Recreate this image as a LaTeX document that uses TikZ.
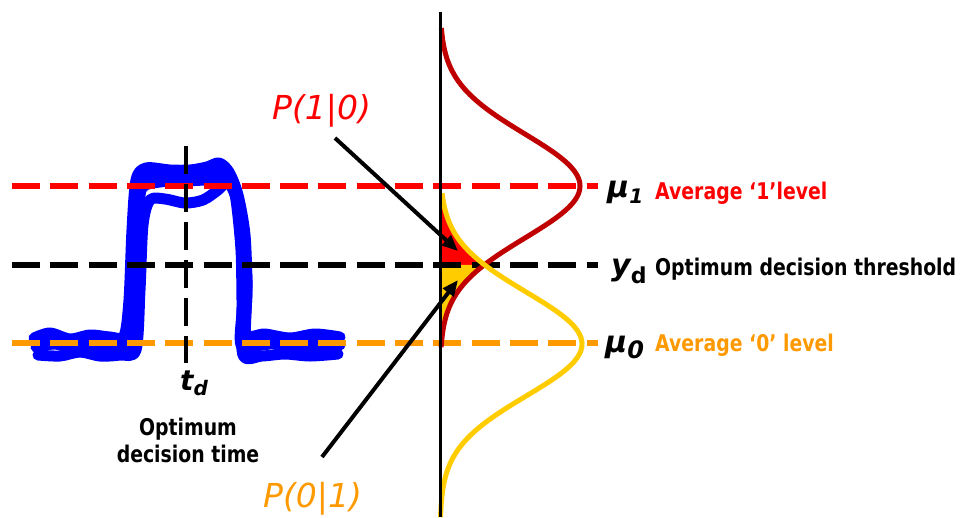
\documentclass[tikz,border=0pt]{standalone}
\usepackage{fontspec}
\setmainfont{DejaVu Sans}
\newfontfamily\lab[FakeStretch=0.82]{DejaVu Sans}
\usetikzlibrary{arrows.meta}
\definecolor{dred}{RGB}{192,0,0}
\definecolor{gold}{RGB}{255,204,0}
\definecolor{orng}{RGB}{255,153,0}
\definecolor{wblue}{RGB}{0,0,255}
\tikzset{
  hdash/.style={line width=5.5pt, dash pattern=on 28pt off 10.3pt},
  vdash/.style={line width=3.5pt, dash pattern=on 28pt off 10pt},
  trace/.style={wblue, line width=11pt, line cap=round, line join=round},
  curve/.style={line width=5pt},
  lbl/.style={font=\lab\bfseries\fontsize{23}{27}\selectfont, inner sep=0pt},
  plab/.style={font=\itshape\fontsize{33}{33}\selectfont, inner sep=0pt},
  sym/.style={font=\bfseries\itshape\fontsize{30}{30}\selectfont, inner sep=0pt},
  arr/.style={line width=4pt, -{Triangle[length=16pt,width=13pt]}}
}
\begin{document}
\begin{tikzpicture}[x=1pt,y=-1pt]
\useasboundingbox (0,0) rectangle (961,517);
% eye diagram traces
\draw[trace] plot[smooth, tension=0.5] coordinates {(34,338) (50,333) (70,339) (90,335) (110,337) (124,336) (129,300) (132,230) (136,180) (146,168) (170,170) (190,170) (207,167) (219,163) (229,172) (238,195) (245,235) (247,290) (246,334) (265,334) (290,338) (315,334) (340,337)};
\draw[trace] plot[smooth, tension=0.5] coordinates {(36,347) (55,344) (75,349) (95,345) (115,348) (128,346) (133,290) (137,220) (142,188) (160,182) (185,181) (210,180) (228,182) (238,205) (243,250) (243,300) (241,345) (262,345) (285,342) (310,347) (340,345)};
\draw[trace] plot[smooth, tension=0.5] coordinates {(38,355) (60,356) (80,352) (100,356) (120,355) (136,350) (140,290) (143,225) (150,200) (165,199) (185,203) (203,200) (218,190) (230,180) (236,200) (241,250) (242,300) (243,355) (262,356) (285,354) (310,356) (338,354)};
\draw[trace] plot[smooth, tension=0.5] coordinates {(40,343) (60,341) (85,346) (110,342) (126,345) (131,320) (135,250) (140,195) (148,174) (185,174) (220,174) (233,186) (242,225) (247,280) (246,350) (265,341) (290,349) (315,341) (340,343)};
% probability tail fills
\fill[red] (440,193) -- plot[variable=\t, domain=-2.9:-1.519, samples=30] ({440+142*exp(-0.5*\t*\t)},{344+52*\t}) -- (440,265) -- cycle;
\fill[gold] (440,265) -- plot[variable=\t, domain=1.519:3.1, samples=30] ({440+140*exp(-0.5*\t*\t)},{186+52*\t}) -- cycle;
% dashed levels
\draw[hdash, red] (12,186) -- (598,186);
\draw[hdash, black] (12,265) -- (598,265);
\draw[hdash, orng] (12,343) -- (598,343);
\draw[vdash] (186,146) -- (186,363);
% gaussian distributions
\draw[curve, dred] plot[variable=\t, domain=-3.04:3.1, samples=120, smooth] ({440+140*exp(-0.5*\t*\t)},{186+52*\t});
\draw[curve, gold] plot[variable=\t, domain=-2.9:3.33, samples=120, smooth] ({440+142*exp(-0.5*\t*\t)},{344+52*\t});
% axis
\draw[line width=3pt] (440,12) -- (440,517);
% labels
\node[sym, anchor=base west] (mu1) at (607,197) {μ\raisebox{-6pt}{\fontsize{20}{20}\selectfont 1}};
\node[sym, anchor=base west] (yd) at (611,275) {y\raisebox{-8pt}{\upshape\fontsize{22}{22}\selectfont d}};
\node[sym, anchor=base west] (mu0) at (605,352) {μ\raisebox{-6pt}{\fontsize{24}{24}\selectfont 0}};
\node[lbl, red, anchor=base west] (avg1) at (655,199) {Average ‘1’level};
\node[lbl, anchor=base west] (thr) at (655,275) {Optimum decision threshold};
\node[lbl, orng, anchor=base west] (avg0) at (655,351) {Average ‘0’ level};
\node[sym, font=\bfseries\itshape\fontsize{28}{28}\selectfont, anchor=base west] (td) at (180,390) {t\raisebox{-5pt}{\fontsize{20}{20}\selectfont d}};
\node[lbl, align=center, anchor=base] (odt) at (188,462) {Optimum\\decision time};
\node[plab, red, anchor=base west] (p10) at (272,119) {P(1|0)};
\node[plab, orng, anchor=base west] (p01) at (263,507) {P(0|1)};
% arrows
\coordinate (s10) at (335,138);
\coordinate (e10) at (458,251);
\coordinate (s01) at (322,457);
\coordinate (e01) at (458,280);
\draw[arr] (s10) -- (e10);
\draw[arr] (s01) -- (e01);
\end{tikzpicture}
\end{document}
